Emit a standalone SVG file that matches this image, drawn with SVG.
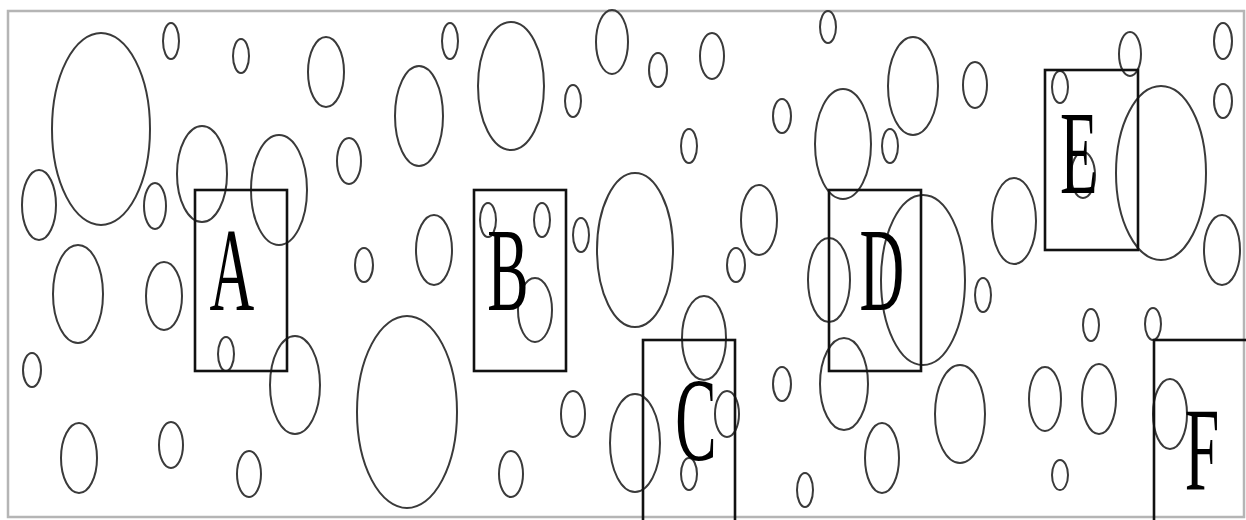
<svg xmlns="http://www.w3.org/2000/svg" width="1246" height="520" viewBox="0 0 1246 520">
<style>
.c{fill:none;stroke:#3a3a3a;stroke-width:2}
.b{fill:none;stroke:#111;stroke-width:2.6}
.t{font-family:"Liberation Serif","Times New Roman",serif;font-size:62px;fill:#000;text-anchor:middle}
</style>
<rect width="1246" height="520" fill="#fff"/>
<rect x="8" y="11" width="1236" height="506" fill="none" stroke="#b5b5b5" stroke-width="2.5"/>
<g id="circles">
<ellipse class="c" cx="101" cy="129" rx="49" ry="96"/>
<ellipse class="c" cx="171" cy="41" rx="8" ry="18"/>
<ellipse class="c" cx="241" cy="56" rx="8" ry="17"/>
<ellipse class="c" cx="326" cy="72" rx="18" ry="35"/>
<ellipse class="c" cx="419" cy="116" rx="24" ry="50"/>
<ellipse class="c" cx="39" cy="205" rx="17" ry="35"/>
<ellipse class="c" cx="155" cy="206" rx="11" ry="23"/>
<ellipse class="c" cx="202" cy="174" rx="25" ry="48"/>
<ellipse class="c" cx="279" cy="190" rx="28" ry="55"/>
<ellipse class="c" cx="349" cy="161" rx="12" ry="23"/>
<ellipse class="c" cx="78" cy="294" rx="25" ry="49"/>
<ellipse class="c" cx="164" cy="296" rx="18" ry="34"/>
<ellipse class="c" cx="364" cy="265" rx="9" ry="17"/>
<ellipse class="c" cx="32" cy="370" rx="9" ry="17"/>
<ellipse class="c" cx="226" cy="354" rx="8" ry="17"/>
<ellipse class="c" cx="295" cy="385" rx="25" ry="49"/>
<ellipse class="c" cx="407" cy="412" rx="50" ry="96"/>
<ellipse class="c" cx="79" cy="458" rx="18" ry="35"/>
<ellipse class="c" cx="171" cy="445" rx="12" ry="23"/>
<ellipse class="c" cx="249" cy="474" rx="12" ry="23"/>
<ellipse class="c" cx="450" cy="41" rx="8" ry="18"/>
<ellipse class="c" cx="511" cy="86" rx="33" ry="64"/>
<ellipse class="c" cx="573" cy="101" rx="8" ry="16"/>
<ellipse class="c" cx="612" cy="42" rx="16" ry="32"/>
<ellipse class="c" cx="658" cy="70" rx="9" ry="17"/>
<ellipse class="c" cx="712" cy="56" rx="12" ry="23"/>
<ellipse class="c" cx="828" cy="27" rx="8" ry="16"/>
<ellipse class="c" cx="782" cy="116" rx="9" ry="17"/>
<ellipse class="c" cx="689" cy="146" rx="8" ry="17"/>
<ellipse class="c" cx="843" cy="144" rx="28" ry="55"/>
<ellipse class="c" cx="488" cy="220" rx="8" ry="17"/>
<ellipse class="c" cx="542" cy="220" rx="8" ry="17"/>
<ellipse class="c" cx="581" cy="235" rx="8" ry="17"/>
<ellipse class="c" cx="434" cy="250" rx="18" ry="35"/>
<ellipse class="c" cx="635" cy="250" rx="38" ry="77"/>
<ellipse class="c" cx="759" cy="220" rx="18" ry="35"/>
<ellipse class="c" cx="736" cy="265" rx="9" ry="17"/>
<ellipse class="c" cx="535" cy="310" rx="17" ry="32"/>
<ellipse class="c" cx="704" cy="338" rx="22" ry="42"/>
<ellipse class="c" cx="573" cy="414" rx="12" ry="23"/>
<ellipse class="c" cx="635" cy="443" rx="25" ry="49"/>
<ellipse class="c" cx="727" cy="414" rx="12" ry="23"/>
<ellipse class="c" cx="689" cy="474" rx="8" ry="16"/>
<ellipse class="c" cx="511" cy="474" rx="12" ry="23"/>
<ellipse class="c" cx="782" cy="384" rx="9" ry="17"/>
<ellipse class="c" cx="805" cy="490" rx="8" ry="17"/>
<ellipse class="c" cx="913" cy="86" rx="25" ry="49"/>
<ellipse class="c" cx="975" cy="85" rx="12" ry="23"/>
<ellipse class="c" cx="890" cy="146" rx="8" ry="17"/>
<ellipse class="c" cx="829" cy="280" rx="21" ry="42"/>
<ellipse class="c" cx="923" cy="280" rx="42" ry="85"/>
<ellipse class="c" cx="844" cy="384" rx="24" ry="46"/>
<ellipse class="c" cx="983" cy="295" rx="8" ry="17"/>
<ellipse class="c" cx="882" cy="458" rx="17" ry="35"/>
<ellipse class="c" cx="960" cy="414" rx="25" ry="49"/>
<ellipse class="c" cx="1014" cy="221" rx="22" ry="43"/>
<ellipse class="c" cx="1060" cy="87" rx="8" ry="16"/>
<ellipse class="c" cx="1083" cy="175" rx="12" ry="23"/>
<ellipse class="c" cx="1130" cy="54" rx="11" ry="22"/>
<ellipse class="c" cx="1161" cy="173" rx="45" ry="87"/>
<ellipse class="c" cx="1223" cy="41" rx="9" ry="18"/>
<ellipse class="c" cx="1223" cy="101" rx="9" ry="17"/>
<ellipse class="c" cx="1222" cy="250" rx="18" ry="35"/>
<ellipse class="c" cx="1091" cy="325" rx="8" ry="16"/>
<ellipse class="c" cx="1153" cy="324" rx="8" ry="16"/>
<ellipse class="c" cx="1045" cy="399" rx="16" ry="32"/>
<ellipse class="c" cx="1099" cy="399" rx="17" ry="35"/>
<ellipse class="c" cx="1170" cy="414" rx="17" ry="35"/>
<ellipse class="c" cx="1060" cy="475" rx="8" ry="15"/>
</g>
<g id="node-A">
<rect class="b" x="195" y="190" width="92" height="181"/>
<text class="t" transform="translate(232,310) scale(1,1.9)">A</text>
</g>
<g id="node-B">
<rect class="b" x="474" y="190" width="92" height="181"/>
<text class="t" transform="translate(508,310) scale(1,1.9)">B</text>
</g>
<g id="node-C">
<rect class="b" x="643" y="340" width="92" height="186"/>
<text class="t" transform="translate(696,460) scale(1,1.9)">C</text>
</g>
<g id="node-D">
<rect class="b" x="829" y="190" width="92" height="181"/>
<text class="t" transform="translate(882,310) scale(1,1.9)">D</text>
</g>
<g id="node-E">
<rect class="b" x="1045" y="70" width="93" height="180"/>
<text class="t" transform="translate(1079,193) scale(1,1.9)">E</text>
</g>
<g id="node-F">
<rect class="b" x="1154" y="340" width="96" height="186"/>
<text class="t" transform="translate(1202,490) scale(1,1.9)">F</text>
</g>
</svg>
